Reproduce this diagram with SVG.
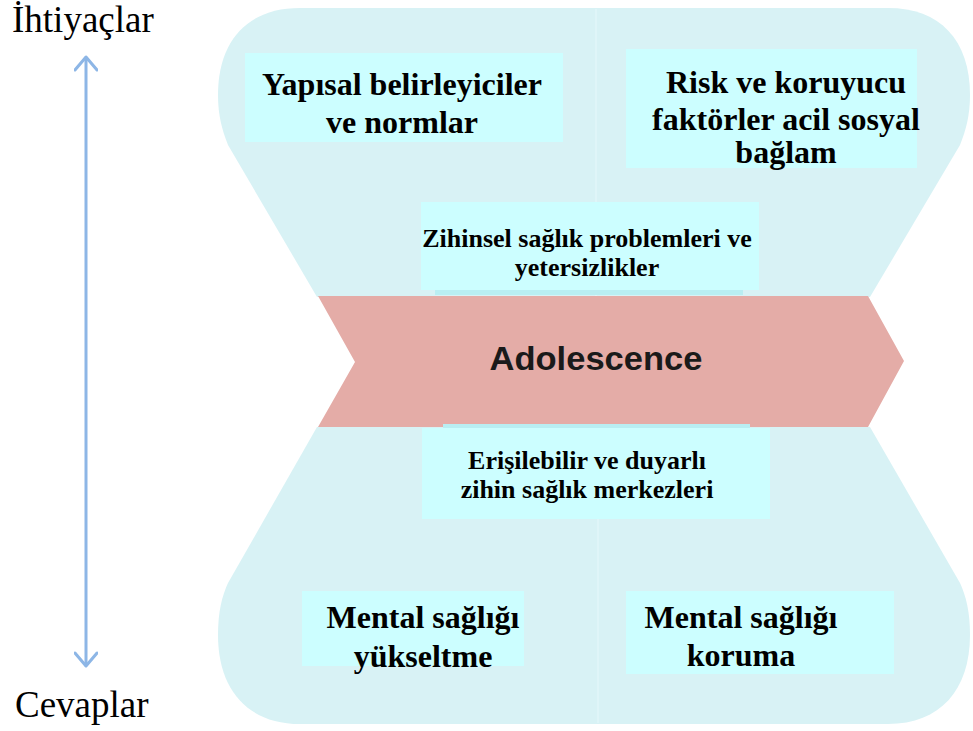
<svg xmlns="http://www.w3.org/2000/svg" width="973" height="731" viewBox="0 0 973 731">
  <style>
    .bg { fill: #d8f2f5; }
    .box { fill: #ccfeff; }
    .strip { fill: #b9eef2; }
    .t32 { font-family: "Liberation Serif", "Times New Roman", serif; font-weight: bold; font-size: 32px; fill: #000; text-anchor: middle; }
    .t26 { font-family: "Liberation Serif", "Times New Roman", serif; font-weight: bold; font-size: 26px; fill: #000; text-anchor: middle; }
    .side { font-family: "Liberation Serif", "Times New Roman", serif; font-size: 37px; fill: #000; }
    .band-text { font-family: "Liberation Sans", Arial, sans-serif; font-weight: bold; font-size: 33px; fill: #1a1a1a; text-anchor: middle; }
    .conn { stroke: #8db6e6; stroke-width: 3; fill: none; }
  </style>
  <defs>
    <marker id="chev" viewBox="0 0 24 24" refX="16" refY="12" markerWidth="24" markerHeight="24" markerUnits="userSpaceOnUse" orient="auto-start-reverse">
      <path d="M3,1 L16,12 L3,23" fill="none" stroke="#8db6e6" stroke-width="3" stroke-linecap="round" stroke-linejoin="round"/>
    </marker>
  </defs>

  <rect width="973" height="731" fill="#ffffff"/>

  <g id="background-shapes">
    <path class="bg" d="M300,8 H888 C940,8 970,40 970,95 C970,115 966,130 960,145 L870,297 H317 L228,145 C222,130 218,115 218,95 C218,40 248,8 300,8 Z"/>
    <path class="bg" d="M317,427 H870 L960,583 C966,596 970,612 970,635 C970,690 940,724 888,724 H300 C248,724 218,690 218,635 C218,612 222,596 228,583 Z"/>
    <line x1="596" y1="9" x2="596" y2="296" stroke="#e2f6f8" stroke-width="1.5"/>
    <line x1="598" y1="428" x2="598" y2="723" stroke="#e2f6f8" stroke-width="1.5"/>
  </g>

  <g id="node-yapisal">
    <rect class="box" x="245" y="53" width="318" height="89"/>
    <text class="t32" x="402" y="95">Yapısal belirleyiciler</text>
    <text class="t32" x="402" y="133">ve normlar</text>
  </g>

  <g id="node-risk">
    <rect class="box" x="626" y="49" width="291" height="119"/>
    <text class="t32" x="786" y="93">Risk ve koruyucu</text>
    <text class="t32" x="786" y="130">faktörler acil sosyal</text>
    <text class="t32" x="786" y="163">bağlam</text>
  </g>

  <g id="node-zihinsel">
    <rect class="strip" x="435" y="289" width="308" height="6"/>
    <rect class="box" x="421" y="202" width="338" height="88"/>
    <text class="t26" x="587" y="247">Zihinsel sağlık problemleri ve</text>
    <text class="t26" x="587" y="276">yetersizlikler</text>
  </g>

  <g id="node-adolescence">
    <polygon points="318,296 868,296 904,361 868,427 318,427 355,362" fill="#e4aca7"/>
    <text class="band-text" x="596" y="370" textLength="213" lengthAdjust="spacingAndGlyphs">Adolescence</text>
  </g>

  <g id="node-erisilebilir">
    <rect class="strip" x="443" y="424" width="307" height="5"/>
    <rect class="box" x="422" y="428" width="348" height="91"/>
    <text class="t26" x="587" y="469">Erişilebilir ve duyarlı</text>
    <text class="t26" x="587" y="498">zihin sağlık merkezleri</text>
  </g>

  <g id="node-yukseltme">
    <rect class="box" x="302" y="591" width="222" height="75"/>
    <text class="t32" x="423" y="628">Mental sağlığı</text>
    <text class="t32" x="423" y="667">yükseltme</text>
  </g>

  <g id="node-koruma">
    <rect class="box" x="626" y="591" width="268" height="83"/>
    <text class="t32" x="741" y="628">Mental sağlığı</text>
    <text class="t32" x="741" y="666">koruma</text>
  </g>

  <g id="node-ihtiyaclar">
    <text class="side" x="12" y="32">İhtiyaçlar</text>
  </g>
  <g id="node-cevaplar">
    <text class="side" x="15" y="717">Cevaplar</text>
  </g>

  <g id="connectors">
    <line class="conn" x1="86" y1="57" x2="86" y2="666" marker-start="url(#chev)" marker-end="url(#chev)"/>
  </g>
</svg>
